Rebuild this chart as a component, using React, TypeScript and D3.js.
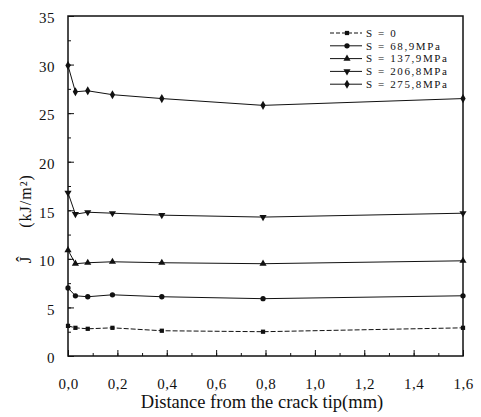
import * as d3 from "d3";
import { useEffect, useRef } from "react";

// distances from crack tip (mm)
const distance = [0.0, 0.03, 0.08, 0.18, 0.38, 0.79, 1.6];

const s0 = [3.1, 2.9, 2.8, 2.9, 2.6, 2.5, 2.9];
const s689 = [7.0, 6.2, 6.1, 6.3, 6.1, 5.9, 6.2];
const s1379 = [10.9, 9.5, 9.6, 9.7, 9.6, 9.5, 9.8];
const s2068 = [16.8, 14.6, 14.8, 14.7, 14.5, 14.3, 14.7];
const s2758 = [29.9, 27.2, 27.3, 26.9, 26.5, 25.8, 26.5];

const seriesNames = ["S=0", "S=68,9MPa", "S=137,9MPa", "S=206,8MPa", "S=275,8MPa"];
const seriesValues = [s0, s689, s1379, s2068, s2758];
const xTicks = [0, 0.2, 0.4, 0.6, 0.8, 1.0, 1.2, 1.4, 1.6];
const yTicks = [0, 5, 10, 15, 20, 25, 30, 35];

const font = '"Liberation Serif", "Times New Roman", Tinos, "DejaVu Serif", serif';

export default function App() {
  const ref = useRef<SVGSVGElement>(null);
  const width = 481;
  const height = 417;
  const margin = { top: 16, left: 68, right: 18, bottom: 61 };

  useEffect(() => {
    const svg = d3.select(ref.current);
    svg.selectAll("*").remove();

    const x = d3.scaleLinear().domain([0, 1.6]).range([margin.left, width - margin.right]);
    const y = d3.scaleLinear().domain([0, 35]).range([height - margin.bottom, margin.top]);

    const symbols = [
      d3.symbol().type(d3.symbolSquare).size(18),
      d3.symbol().type(d3.symbolCircle).size(22),
      d3.symbol().type(d3.symbolTriangle).size(22),
      d3.symbol().type(d3.symbolTriangle).size(22),
      d3.symbol().type(d3.symbolDiamond).size(24),
    ];
    const rot = [0, 0, 0, 180, 0];

    // frame
    svg
      .append("rect")
      .attr("x", x(0))
      .attr("y", y(35))
      .attr("width", x(1.6) - x(0))
      .attr("height", y(0) - y(35))
      .attr("fill", "none")
      .attr("stroke", "#111")
      .attr("stroke-width", 1.5);

    // x axis (ticks inward)
    svg
      .append("g")
      .attr("transform", `translate(0,${y(0)})`)
      .call(d3.axisBottom(x).tickValues(d3.range(0, 17).map((i) => i / 10)).tickSize(-3).tickFormat(() => ""))
      .call((g) => g.select(".domain").remove());
    svg
      .append("g")
      .attr("transform", `translate(0,${y(0)})`)
      .call(d3.axisBottom(x).tickValues(xTicks).tickSize(-6).tickPadding(22)
        .tickFormat((d) => d3.format(".1f")(d as number).replace(".", ",")))
      .call((g) => g.select(".domain").remove())
      .call((g) => g.selectAll("text").style("font-family", font).style("font-size", "15px").style("letter-spacing", "0.5px").attr("fill", "#111"));

    // y axis (ticks inward)
    svg
      .append("g")
      .attr("transform", `translate(${x(0)},0)`)
      .call(d3.axisLeft(y).tickValues(d3.range(0, 36, 2.5)).tickSize(-3).tickFormat(() => ""))
      .call((g) => g.select(".domain").remove());
    svg
      .append("g")
      .attr("transform", `translate(${x(0)},0)`)
      .call(d3.axisLeft(y).tickValues(yTicks).tickSize(-6).tickPadding(13))
      .call((g) => g.select(".domain").remove())
      .call((g) => g.selectAll("text").style("font-family", font).style("font-size", "15px").style("letter-spacing", "0.5px").attr("fill", "#111").attr("dy", "0.45em"));
    svg.selectAll(".tick line").attr("stroke", "#111");

    // series
    const line = d3
      .line<number>()
      .x((_, i) => x(distance[i]))
      .y((d) => y(d));

    seriesValues.forEach((vals, k) => {
      svg
        .append("path")
        .attr("d", line(vals))
        .attr("fill", "none")
        .attr("stroke", "#111")
        .attr("stroke-width", 1)
        .attr("stroke-dasharray", k === 0 ? "5,2" : null);
      svg
        .append("g")
        .selectAll("path")
        .data(vals)
        .join("path")
        .attr("d", symbols[k]() as string)
        .attr("transform", (d, i) => `translate(${x(distance[i])},${y(d)}) rotate(${rot[k]})`)
        .attr("fill", "#111");
    });

    // legend
    const lg = svg.append("g").attr("transform", "translate(330,33)");
    seriesNames.forEach((name, k) => {
      const row = lg.append("g").attr("transform", `translate(0,${k * 12.8})`);
      row
        .append("line")
        .attr("x1", 0)
        .attr("x2", 32)
        .attr("stroke", "#111")
        .attr("stroke-width", 1)
        .attr("stroke-dasharray", k === 0 ? "4,2" : null);
      row
        .append("path")
        .attr("d", symbols[k]() as string)
        .attr("transform", `translate(17,0) rotate(${rot[k]})`)
        .attr("fill", "#111");
      row
        .append("text")
        .attr("x", 36)
        .attr("dy", "0.35em")
        .style("font-family", font)
        .style("font-size", "11px")
        .style("letter-spacing", "1.6px")
        .attr("fill", "#111")
        .text(name.replace("=", " = "));
    });

    // axis titles
    svg
      .append("text")
      .attr("x", 262)
      .attr("y", 408)
      .attr("text-anchor", "middle")
      .style("font-family", font)
      .style("font-size", "18.5px")
      .attr("fill", "#111")
      .text("Distance from the crack tip(mm)");

    svg
      .append("text")
      .attr("transform", "translate(31,260) rotate(-90)")
      .attr("text-anchor", "middle")
      .style("font-family", font)
      .style("font-size", "17px")
      .attr("fill", "#111")
      .text("Ĵ");
    svg
      .append("text")
      .attr("transform", "translate(31,201) rotate(-90)")
      .attr("text-anchor", "middle")
      .style("font-family", font)
      .style("font-size", "16px")
      .style("letter-spacing", "1px")
      .attr("fill", "#111")
      .text("(kJ/m²)");
  }, []);

  return (
    <svg
      ref={ref}
      width={width}
      height={height}
      style={{ position: "absolute", left: 0, top: 0, background: "#fff" }}
    />
  );
}
